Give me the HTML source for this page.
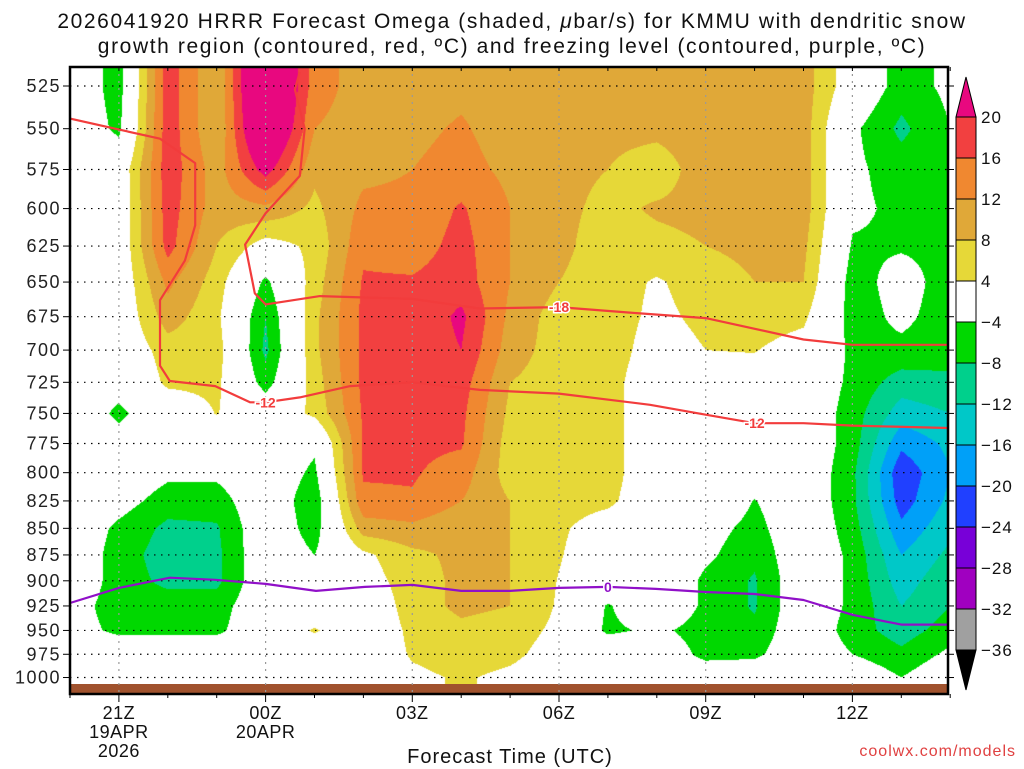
<!DOCTYPE html>
<html><head><meta charset="utf-8"><style>
body{margin:0;background:#fff;width:1024px;height:768px;overflow:hidden;font-family:"Liberation Sans",sans-serif}
#wrap{position:relative;width:1024px;height:768px}
canvas,svg{position:absolute;left:0;top:0}
</style></head><body>
<div id="wrap">
<canvas id="cv" width="1024" height="768"></canvas>
<svg id="sv" width="1024" height="768"></svg>
</div>
<script>
const hours=[0,1,2,3,4,5,6,7,8,9,10,11,12,13,14,15,16,17,18];
const levels=[525,550,575,600,625,650,675,700,725,750,775,800,825,850,875,900,925,950,975,1000];
const levelLabels=["525","550","575","600","625","650","675","700","725","750","775","800","825","850","875","900","925","950","975","1000"];
const timeTickHours=[1,4,7,10,13,16];
const timeTickLabels=[["21Z","19APR","2026"],["00Z","20APR"],["03Z"],["06Z"],["09Z"],["12Z"]];
const omegaByHour=[
[0,0,0,0,0,0,0,0,0,0,0,0,0,0,0,0,-2,-2,0,0],
[-6,-5,0,0,0,0,0,0,-2,-5,-2,0,-2,-5,-6,-6,-6,-5,0,0],
[18.5,18.5,18.5,18,17.5,13,10,6,5,0,0,-3,-6,-9,-10,-9,-6,-5,0,0],
[8,8,10,10,8,6,5,6,5,4.2,0,-3,-6,-8.5,-9,-9,-6,-5,0,0],
[32,30,22,11,2,-5,-8,-9,-6,0,0,0,0,0,0,0,0,0,0,0],
[14,12,9,7,5,6,7,7,6,5,-3,-5,-7,-6,-4,0,0,4.5,0,0],
[10,10,11,13,15,16.5,17,17,17,16.5,16.5,16.5,15,10,3,2,0,0,0,0],
[10,11,12,13,14,16.5,16.5,17,17,17,17,16.5,15.5,11,7,6,6,5,4.5,3],
[11,12.5,13.5,16.5,17.5,18,21,20,18,17,16.5,14,12,9,9,9,9,7,6,4.5],
[10,10,11,12,12,12,11,10,8,7,6,6,8,8,8,8,8,6,5,3],
[10,9,9,9,9,8,6,6,6,6,6,6,5.5,4.6,4.3,3.8,3.5,3,2,1],
[10,9,8,7,6,6,6,6,5.5,5.5,5.5,5.5,4.8,2,1,1,-4.5,-5,1,0],
[10,9,6,8.5,7,3.5,3,2,1,1,1,1,1,1,1,1,1,-3,0,0],
[10,10,10,9,8,6,5,4,2,1,1,1,1,-2,-3,-5,-5,-6,-5.5,0],
[10,10,9,9,9,8,6,4.2,2,1,0,-1,-4.2,-5.5,-7,-8.5,-8.5,-7,-5,0],
[10,10,10,10,9,8,5,2,0,0,0,0,0,0,0,0,0,0,0,0],
[1,-3,-3,-3,-4.5,-6,-6,-5,-5,-6,-6,-7,-7,-6,-5,-5,-5,-6,-4,0],
[-6,-9,-6,-5,-4.5,-2,-3,-5,-10,-14,-19,-23,-22,-19,-16,-14,-12,-10,-7,-4],
[-3,-4,-5,-5,-5,-6,-6,-6,-9,-12,-15,-16,-15,-13,-11,-9,-8,-6,-3,0]];
const bandEdges=[-36,-32,-28,-24,-20,-16,-12,-8,-4,4,8,12,16,20];
const bandColors=["#000000","#a0a0a0","#a000c0","#7800d8","#2040ff","#00a0f8","#00c8c8","#00d08c","#00d800","#ffffff","#e6d838","#e0a838","#f08830","#f24040","#e8087f"];
const cbLabels=["20","16","12","8","4","−4","−8","−12","−16","−20","−24","−28","−32","−36"];
const dgzM12Hours=[0,1.84,2.56,2.56,2.35,1.84,1.84,2.04,2.97,3.68,4,4.7,5.73,7,8.38,10,11.86,13,14,15,16,17.95];
const dgzM12Press=[544,556,571,611,635,663,712,724,728,741,741,737,728,725,731,734,743,751,758,758,760,762];
const dgzM18Hours=[4.7,4.6,4.8,4.7,4,3.58,3.78,4,5.11,7,8.38,10,11.45,13,15,16,17.95];
const dgzM18Press=[517,527,550,579,603,624,658,666,660,662,669,668,672,676,692,696,696];
const frzHours=[0,1,2.04,2.97,4,5.03,6.03,7,8,9,10,11,11.98,13,14,15,16,17,17.95];
const frzPress=[922,907,897,899,903,910,906,904,910,910,907,906,908,911,913,919,934,944,944];

const X0=70,X1=948,Y0=67,Y1=694;
const xOf=h=>70+48.9*h;
const yOf=p=>86+918*Math.log(p/525);
const pOf=y=>525*Math.exp((y-86)/918);
function bandIndex(v){let i=0;while(i<bandEdges.length&&v>=bandEdges[i])i++;return i;}
function hex(c){return [parseInt(c.substr(1,2),16),parseInt(c.substr(3,2),16),parseInt(c.substr(5,2),16)];}
const rgb=bandColors.map(hex);
const lnL=levels.map(Math.log);
const cv=document.getElementById('cv'),ctx=cv.getContext('2d');
const img=ctx.createImageData(X1-X0,Y1-Y0);
for(let y=Y0;y<Y1;y++){
 const lp=Math.log(pOf(y+0.5));
 let r=0;while(r<levels.length-2&&lp>lnL[r+1])r++;
 let fr=(lp-lnL[r])/(lnL[r+1]-lnL[r]);fr=Math.max(0,Math.min(1,fr));
 for(let x=X0;x<X1;x++){
  let h=(x+0.5-70)/48.9;h=Math.max(0,Math.min(18,h));
  let c=Math.min(17,Math.floor(h));let fc=h-c;
  const a=omegaByHour[c],b=omegaByHour[c+1];
  const v=(a[r]*(1-fr)+a[r+1]*fr)*(1-fc)+(b[r]*(1-fr)+b[r+1]*fr)*fc;
  const col=rgb[bandIndex(v)];const k=((y-Y0)*(X1-X0)+(x-X0))*4;
  img.data[k]=col[0];img.data[k+1]=col[1];img.data[k+2]=col[2];img.data[k+3]=255;
 }
}
ctx.putImageData(img,X0,Y0);

const NS="http://www.w3.org/2000/svg",sv=document.getElementById('sv');
function el(t,at,txt){const e=document.createElementNS(NS,t);for(const k in at)e.setAttribute(k,at[k]);if(txt!==undefined)e.textContent=txt;sv.appendChild(e);return e;}
let g=el('rect',{x:X0,y:684,width:X1-X0,height:Y1-684,fill:'#a0522d'});


levels.forEach((p,i)=>{
 const y=yOf(p);
 let l=el('line',{x1:X0,x2:X1,y1:y,y2:y,stroke:'#000','stroke-width':1.2,'stroke-dasharray':'1.5,5.5'});
 
 
 let t=el('line',{x1:X0-7,x2:X0,y1:y,y2:y,stroke:'#000'});
 
 
 let tr=el('line',{x1:X1,x2:X1+6,y1:y,y2:y,stroke:'#000'});
 
 
 let tx=el('text',{x:X0-9,y:y+6,'text-anchor':'end','font-size':18,fill:'#222','letter-spacing':'1.5'},levelLabels[i]);
 
 
});
timeTickHours.forEach((h,i)=>{
 const x=xOf(h);
 let l=el('line',{x1:x,x2:x,y1:Y0,y2:Y1,stroke:'#999','stroke-width':1.2,'stroke-dasharray':'2,5'});
 
 
 timeTickLabels[i].forEach((s,j)=>{
  let tx=el('text',{x:x,y:719+j*19,'text-anchor':'middle','font-size':18,fill:'#111','letter-spacing':'0.5'},s);
  
  
 });
});
hours.forEach(h=>{const x=xOf(h);
 let t=el('line',{x1:x,x2:x,y1:Y1,y2:Y1+(timeTickHours.includes(h)?8:4),stroke:'#000'});
 
 
 let t2=el('line',{x1:x,x2:x,y1:Y0,y2:Y0+4,stroke:'#000'});
 
 
});
function poly(hs,ps,col,name){
 const pts=hs.map((h,i)=>xOf(h).toFixed(1)+','+yOf(ps[i]).toFixed(1)).join(' ');
 let e=el('polyline',{points:pts,fill:'none',stroke:col,'stroke-width':2.2,'stroke-linejoin':'round'});
 
 
}
poly(dgzM12Hours,dgzM12Press,'#f23c3c','dgz-contour-minus12');
poly(dgzM18Hours,dgzM18Press,'#f23c3c','dgz-contour-minus18');
poly(frzHours,frzPress,'#9010c8','freezing-level-contour');
function clabel(h,p,s,col,name){
 const x=xOf(h),y=yOf(p);
 let t=el('text',{x:x,y:y+5,'text-anchor':'middle','font-size':14,'font-weight':'bold',fill:col,stroke:'#fff','stroke-width':3,'paint-order':'stroke'},s);
 
 
}
clabel(10,668,'-18','#f23c3c','contour-label-minus18');
clabel(4,741,'-12','#f23c3c','contour-label-minus12');
clabel(14,758,'-12','#f23c3c','contour-label-minus12-right');
clabel(11,906,'0','#9010c8','freezing-label-0');
let fr=el('rect',{x:X0,y:Y0,width:X1-X0,height:Y1-Y0,fill:'none',stroke:'#000','stroke-width':2.5});


const CX=956,CW=20,CT=117,CS=41;
for(let i=0;i<13;i++){
 let r=el('rect',{x:CX,y:CT+i*CS,width:CW,height:CS,fill:bandColors[13-i],stroke:'#000','stroke-width':1});
 
 
}
let tt=el('polygon',{points:`${CX},${CT} ${CX+CW},${CT} ${CX+CW/2},${CT-40}`,fill:bandColors[14],stroke:'#000'});


let tb=el('polygon',{points:`${CX},${CT+13*CS} ${CX+CW},${CT+13*CS} ${CX+CW/2},${CT+13*CS+40}`,fill:'#000',stroke:'#000'});


cbLabels.forEach((s,i)=>{
 let t=el('text',{x:981,y:CT+i*CS+6,'font-size':17,fill:'#111','letter-spacing':'1'},s);
 
 
});
</script>
<div style="position:absolute;left:0;top:9px;width:1024px;text-align:center;font-size:21px;line-height:25px;color:#111;letter-spacing:1.6px;white-space:nowrap">2026041920 HRRR Forecast Omega (shaded, <i>μ</i>bar/s) for KMMU with dendritic snow<br>growth region (contoured, red, ºC) and freezing level (contoured, purple, ºC)</div>
<div style="position:absolute;left:310px;top:746px;width:400px;text-align:center;font-size:20px;color:#111;letter-spacing:1px">Forecast Time (UTC)</div>
<div style="position:absolute;right:8px;top:743px;font-size:16px;color:#e04040;letter-spacing:1px">coolwx.com/models</div>
</body></html>
